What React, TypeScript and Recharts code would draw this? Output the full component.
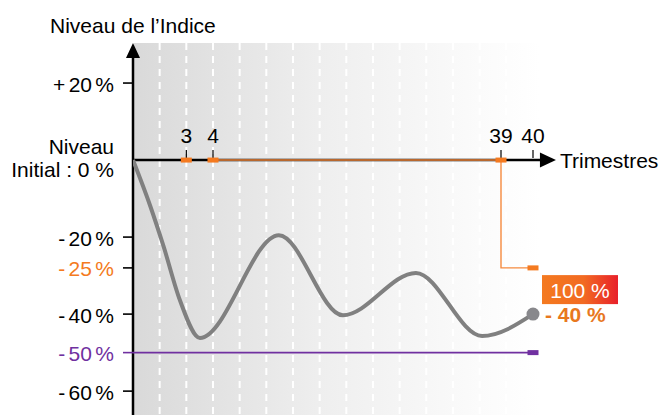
import {
  CartesianGrid,
  ComposedChart,
  Line,
  ReferenceDot,
  ReferenceLine,
  XAxis,
  YAxis,
} from 'recharts';

const FONT = '"Liberation Sans", Arial, sans-serif';
const ORANGE = '#f47a20';
const ORANGE_TEXT = '#e8781e';
const PURPLE = '#7030a0';
const GREY = '#808080';

// x = schematic position on the time axis (one step per dashed line)
const pathX = [0, 0.65, 1.15, 1.76, 2.51, 5.47, 7.87, 10.61, 13.09, 15];
const pathLevel = [0, -12, -22.5, -36.4, -46.2, -19.5, -40.3, -29.3, -45.7, -40];

const quarterLabels = ['3', '4', '39', '40'];
const quarterX = [2, 3, 13.8, 15];
const observationX = [2, 3, 13.8];
const gridX = [1, 2, 3, 4, 5, 6, 7, 8, 9, 10, 11, 12, 13, 14];

const barrierLevel = -28; // where the picture draws its "- 25 %" barrier
const protectionLevel = -50;
const finalLevel = -40;
const payoutLabel = '100 %';

const levelTicks = [20, 0, -20, -28, -40, -50, -60];
const levelLabels = ['+ 20 %', 'Initial : 0 %', '- 20 %', '- 25 %', '- 40 %', '- 50 %', '- 60 %'];

const X_MAX = 15.2625;
const X_ARROW = 15.86;
const Y_MIN = -66.2;
const Y_MAX = 30.4;

const trajectory = pathX.map((x, i) => ({ x, y: pathLevel[i] }));
const barrierPath = [
  { x: quarterX[1], y: 0 },
  { x: observationX[2], y: 0 },
  { x: observationX[2], y: barrierLevel },
  { x: quarterX[3], y: barrierLevel },
];
const protectionPath = [
  { x: 0, y: protectionLevel },
  { x: quarterX[3], y: protectionLevel },
];

function LevelTick(props: any) {
  const { x, y, payload } = props;
  const value = payload.value as number;
  const label = levelLabels[levelTicks.indexOf(value)];
  const axisX = x + 19;
  const color = value === barrierLevel ? ORANGE : value === protectionLevel ? PURPLE : '#000';
  const tickColor = value === protectionLevel ? PURPLE : '#000';
  if (value === 0) {
    return (
      <g fontFamily={FONT} fontSize={21} textAnchor="end">
        <text x={axisX - 19} y={y - 6} fill="#000">Niveau</text>
        <text x={axisX - 19} y={y + 16.7} fill="#000">{label}</text>
      </g>
    );
  }
  return (
    <g>
      <line x1={axisX - 10} x2={axisX} y1={y} y2={y} stroke={tickColor} strokeWidth={1.6} />
      <text
        x={axisX - 19}
        y={y + 8.5}
        fill={color}
        fontFamily={FONT}
        fontSize={21}
        textAnchor="end"
        style={{ wordSpacing: '-2.5px' }}
      >
        {label}
      </text>
    </g>
  );
}

function QuarterMark(label: string) {
  return (props: any) => (
    <g>
      <line x1={props.cx} x2={props.cx} y1={props.cy - 10} y2={props.cy - 2} stroke="#000" strokeWidth={1.2} />
      <text x={props.cx} y={props.cy - 17} textAnchor="middle" fontFamily={FONT} fontSize={21} fill="#000">
        {label}
      </text>
    </g>
  );
}

function Marker(color: string) {
  return (props: any) => <rect x={props.cx - 5.5} y={props.cy - 2.5} width={11} height={5} fill={color} />;
}

function YArrow(props: any) {
  const { cx, cy } = props;
  return <path d={`M${cx},${cy} L${cx - 7},${cy + 15} L${cx + 7},${cy + 15} Z`} fill="#000" />;
}

function XArrow(props: any) {
  const { cx, cy } = props;
  return (
    <g>
      <path d={`M${cx},${cy} L${cx - 16},${cy - 7.5} L${cx - 16},${cy + 7.5} Z`} fill="#000" />
      <text x={cx + 4} y={cy + 7.5} fontFamily={FONT} fontSize={21} fill="#000">
        Trimestres
      </text>
    </g>
  );
}

function FinalPoint(props: any) {
  const { cx, cy } = props;
  return (
    <g fontFamily={FONT} fontSize={21}>
      <circle cx={cx} cy={cy} r={6.5} fill="#88888c" />
      <rect x={cx + 9} y={cy - 39} width={76} height={29} fill="url(#payoutFill)" />
      <text x={cx + 47} y={cy - 16} textAnchor="middle" fill="#fff">
        {payoutLabel}
      </text>
      <text x={cx + 12} y={cy + 8} fontWeight="bold" fill={ORANGE_TEXT}>
        {`- ${Math.abs(finalLevel)} %`}
      </text>
    </g>
  );
}

export default function App() {
  return (
    <div style={{ position: 'absolute', left: 0, top: 0, width: 662, height: 415, background: '#fff' }}>
      <div
        style={{
          position: 'absolute',
          left: 50,
          top: 14,
          fontFamily: FONT,
          fontSize: 21,
          lineHeight: '24px',
          color: '#000',
          whiteSpace: 'nowrap',
        }}
      >
        Niveau de l’Indice
      </div>
      <ComposedChart width={662} height={415} margin={{ top: 43, right: 122, bottom: 0, left: 0 }}>
        <defs>
          <linearGradient id="plotFill" x1="0" y1="0" x2="1" y2="0">
            <stop offset="0%" stopColor="#d9d9d9" />
            <stop offset="45%" stopColor="#eeeeee" />
            <stop offset="85%" stopColor="#fbfbfb" />
            <stop offset="100%" stopColor="#ffffff" />
          </linearGradient>
          <linearGradient id="payoutFill" x1="0" y1="0" x2="1" y2="0">
            <stop offset="0%" stopColor="#f47a20" />
            <stop offset="55%" stopColor="#f26a22" />
            <stop offset="100%" stopColor="#e8202a" />
          </linearGradient>
        </defs>
        <CartesianGrid
          horizontal={false}
          fill="url(#plotFill)"
          stroke="#ffffff"
          strokeWidth={2}
          strokeDasharray="7 6"
        />
        <XAxis type="number" dataKey="x" domain={[0, X_MAX]} ticks={gridX} allowDataOverflow hide />
        <YAxis
          type="number"
          dataKey="y"
          width={133}
          domain={[Y_MIN, Y_MAX]}
          ticks={levelTicks}
          interval={0}
          tickSize={10}
          tickMargin={9}
          tickLine={false}
          axisLine={false}
          allowDataOverflow
          tick={LevelTick}
        />
        <ReferenceLine
          segment={[{ x: 0, y: Y_MIN }, { x: 0, y: Y_MAX - 2 }]}
          stroke="#000"
          strokeWidth={2.5}
          ifOverflow="visible"
        />
        <ReferenceLine
          segment={[{ x: 0, y: 0 }, { x: X_ARROW - 0.3, y: 0 }]}
          stroke="#000"
          strokeWidth={2.5}
          ifOverflow="visible"
        />
        <Line
          data={protectionPath}
          dataKey="y"
          type="linear"
          stroke={PURPLE}
          strokeWidth={1.6}
          dot={false}
          isAnimationActive={false}
        />
        <Line
          data={barrierPath}
          dataKey="y"
          type="linear"
          stroke="#f58a3f"
          strokeWidth={1.4}
          dot={false}
          isAnimationActive={false}
        />
        <Line
          data={trajectory}
          dataKey="y"
          type="monotone"
          stroke={GREY}
          strokeWidth={4}
          dot={false}
          isAnimationActive={false}
        />
        <ReferenceDot x={0} y={Y_MAX} shape={YArrow} ifOverflow="visible" />
        <ReferenceDot x={X_ARROW} y={0} shape={XArrow} ifOverflow="visible" />
        {quarterX.map((qx, i) => (
          <ReferenceDot key={quarterLabels[i]} x={qx} y={0} shape={QuarterMark(quarterLabels[i])} ifOverflow="visible" />
        ))}
        {observationX.map((ox) => (
          <ReferenceDot key={`obs-${ox}`} x={ox} y={0} shape={Marker(ORANGE)} ifOverflow="visible" />
        ))}
        <ReferenceDot x={quarterX[3]} y={barrierLevel} shape={Marker(ORANGE)} ifOverflow="visible" />
        <ReferenceDot x={quarterX[3]} y={protectionLevel} shape={Marker(PURPLE)} ifOverflow="visible" />
        <ReferenceDot x={quarterX[3]} y={finalLevel} shape={FinalPoint} ifOverflow="visible" />
      </ComposedChart>
    </div>
  );
}
